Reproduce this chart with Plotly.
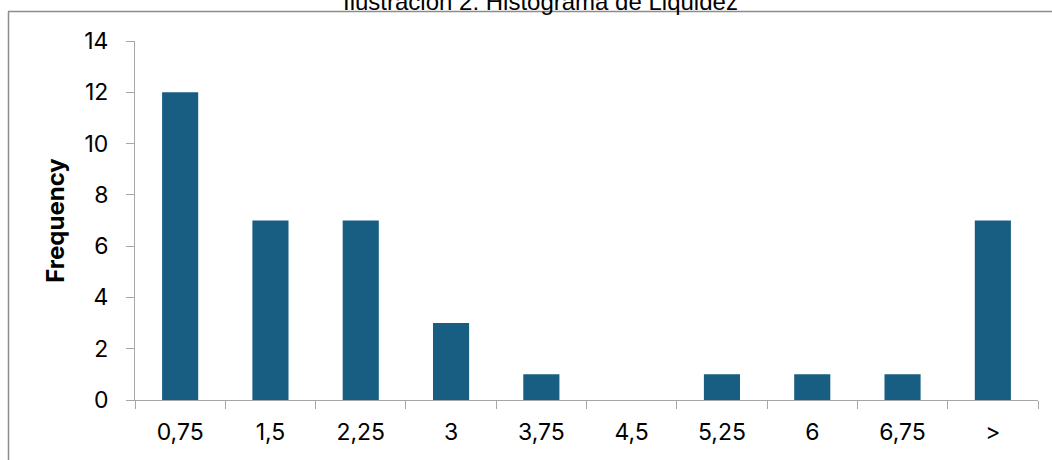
import plotly.graph_objects as go

categories = ["0,75", "1,5", "2,25", "3", "3,75", "4,5", "5,25", "6", "6,75", ">"]
frequency = [12, 7, 7, 3, 1, 0, 1, 1, 1, 7]
y_ticks = [0, 2, 4, 6, 8, 10, 12, 14]
title_text = "Ilustración 2: Histograma de Liquidez"

W, H = 1052, 460
ml, mr, mt, mb = 135, 14, 41, 60
ph = H - mt - mb
pw = W - ml - mr

fig = go.Figure(go.Bar(
    x=categories, y=frequency,
    marker=dict(color="#175E82", line=dict(width=0)),
))

font = "Inter, Liberation Sans, Arial, sans-serif"
axis_col = "#A6A6A6"

fig.update_layout(
    width=W, height=H,
    margin=dict(l=ml, r=mr, t=mt, b=mb, pad=0),
    paper_bgcolor="white", plot_bgcolor="white",
    bargap=0.6,
    showlegend=False,
    font=dict(family=font, color="black"),
    xaxis=dict(
        type="category", showline=True, linecolor=axis_col, linewidth=1,
        ticks="outside", tickson="boundaries", ticklen=8, tickcolor=axis_col,
        tickfont=dict(size=23), ticklabelstandoff=11,
        showgrid=False, zeroline=False,
    ),
    yaxis=dict(
        range=[0, 14], tickvals=y_ticks, showline=True, linecolor=axis_col, linewidth=1,
        ticks="outside", ticklen=8, tickcolor=axis_col, tickfont=dict(size=23),
        ticklabelstandoff=13,
        showgrid=False, zeroline=False,
        title=dict(text="<b>Frequency</b>", font=dict(size=24), standoff=12),
    ),
    shapes=[
        dict(type="line", xref="paper", yref="paper",
             x0=(8 - ml) / pw, x1=(W - ml) / pw,
             y0=1 + (mt - 11.5) / ph, y1=1 + (mt - 11.5) / ph,
             line=dict(color="#8C8C8C", width=1.5)),
        dict(type="line", xref="paper", yref="paper",
             x0=(8.5 - ml) / pw, x1=(8.5 - ml) / pw,
             y0=1 + (mt - 11.5) / ph, y1=-(mb + 5) / ph,
             line=dict(color="#8C8C8C", width=1.5)),
    ],
    annotations=[
        dict(text=title_text, xref="paper", yref="paper",
             x=(540 - ml) / pw, y=1 + (mt - 17) / ph,
             xanchor="center", yanchor="bottom", showarrow=False,
             font=dict(size=24, color="black", family="Liberation Sans, Arial, sans-serif")),
    ],
)

fig.write_html("out.html", config={"displayModeBar": False},
               post_script="document.body.style.margin='0';")
